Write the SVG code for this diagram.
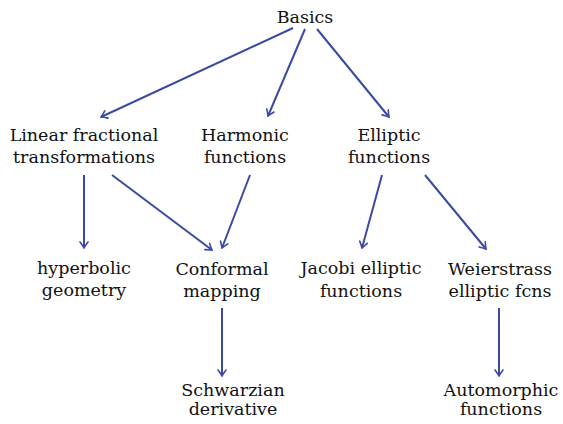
<svg xmlns="http://www.w3.org/2000/svg" width="563" height="424" viewBox="0 0 563 424">
<style>
text{font-family:"DejaVu Serif","Liberation Serif",serif;font-size:17.5px;fill:#111;text-anchor:middle}
.c line{stroke:#3a4aa3;stroke-width:2;fill:none;marker-end:url(#ah)}
</style>
<defs>
<marker id="ah" viewBox="-6 -5 8 10" refX="1" refY="0" markerWidth="8" markerHeight="10" markerUnits="userSpaceOnUse" orient="auto">
<path d="M-5,-4 Q-1,-1 1,0 Q-1,1 -5,4" fill="none" stroke="#3a4aa3" stroke-width="1.6" stroke-linecap="round"/>
</marker>
</defs>
<rect width="563" height="424" fill="#fff"/>
<g class="c">
<line x1="293" y1="28" x2="101" y2="117"/>
<line x1="305" y1="29" x2="268" y2="116"/>
<line x1="317" y1="29" x2="389" y2="117"/>
<line x1="84" y1="175" x2="84" y2="248"/>
<line x1="112" y1="175" x2="212" y2="250"/>
<line x1="250" y1="175" x2="222" y2="248"/>
<line x1="382" y1="175" x2="362" y2="248"/>
<line x1="425" y1="175" x2="486" y2="249"/>
<line x1="222" y1="308" x2="222" y2="376"/>
<line x1="499" y1="308" x2="499" y2="376"/>
</g>
<g id="basics"><text x="305" y="23">Basics</text></g>
<g id="lft"><text x="84" y="141">Linear fractional</text><text x="84" y="163">transformations</text></g>
<g id="harmonic"><text x="245" y="141">Harmonic</text><text x="245" y="163">functions</text></g>
<g id="elliptic"><text x="389" y="141">Elliptic</text><text x="389" y="163">functions</text></g>
<g id="hyperbolic"><text x="84" y="274">hyperbolic</text><text x="84" y="296">geometry</text></g>
<g id="conformal"><text x="222" y="275">Conformal</text><text x="222" y="297">mapping</text></g>
<g id="jacobi"><text x="361" y="274">Jacobi elliptic</text><text x="361" y="297">functions</text></g>
<g id="weierstrass"><text x="500" y="275">Weierstrass</text><text x="500" y="297">elliptic fcns</text></g>
<g id="schwarzian"><text x="233" y="396">Schwarzian</text><text x="233" y="415">derivative</text></g>
<g id="automorphic"><text x="501" y="396">Automorphic</text><text x="501" y="415">functions</text></g>
</svg>
